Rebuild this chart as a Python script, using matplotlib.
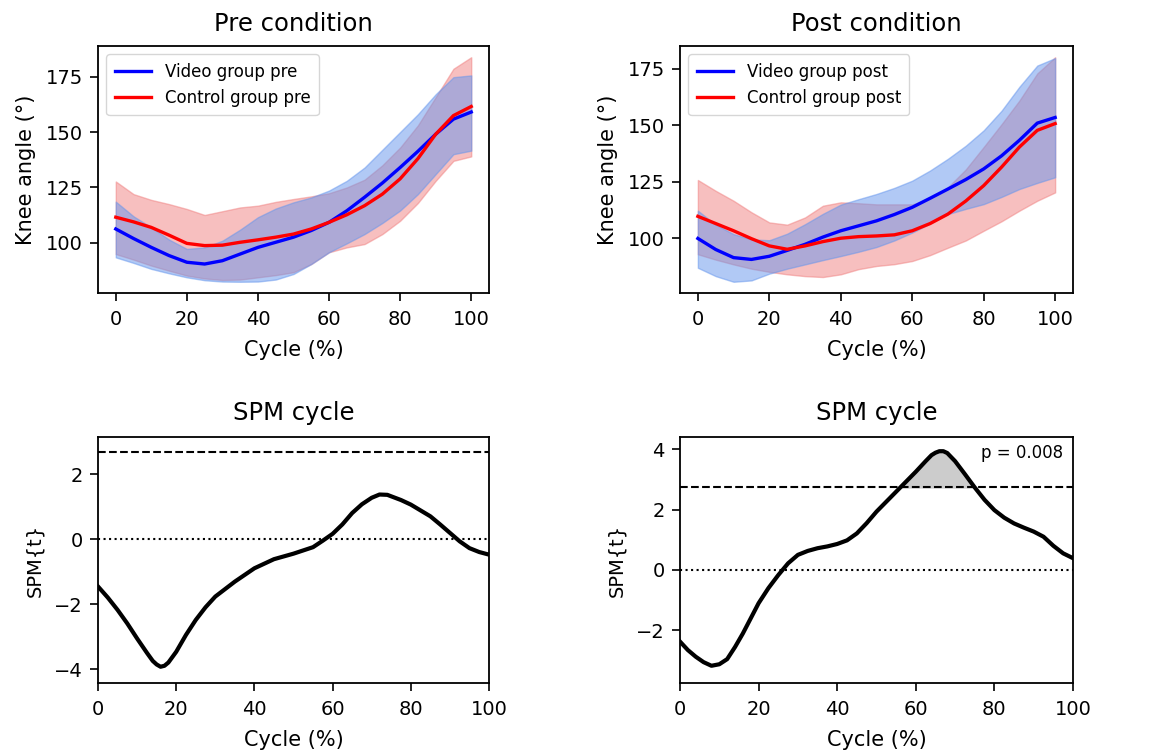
import matplotlib
matplotlib.use("Agg")
import matplotlib.pyplot as plt
import numpy as np

# gait cycle sample points (%)
cycle = [0, 5, 10, 15, 20, 25, 30, 35, 40, 45, 50, 55, 60, 65, 70, 75, 80, 85, 90, 95, 100]

# Pre condition: means and band limits (deg)
pre_video = [106.3, 102, 98, 94.3, 91.3, 90.5, 92, 95, 98, 100.3, 102.6, 105.6, 109.3,
             114.5, 120.6, 127, 134, 141.3, 149, 155.8, 159]
pre_video_hi = [118.6, 112, 107, 101.5, 97.3, 98, 101, 106, 111.6, 115.5, 118.3, 120.5, 123.6,
                128, 134, 142, 150, 158, 167, 174.7, 175.5]
pre_video_lo = [93.5, 91, 88.3, 86.3, 84.5, 83.2, 82.6, 82.5, 82.6, 83.5, 86, 90.5, 95.8,
                99.8, 104, 109, 114.6, 122, 131, 140, 141.6]
pre_ctrl = [111.6, 109.5, 107, 103.5, 99.8, 98.8, 99, 100.3, 101.4, 102.6, 104, 106.3, 109.3,
            112.7, 116.8, 122, 128.9, 138, 149, 157.4, 161.5]
pre_ctrl_hi = [127.7, 122, 119.4, 117.5, 115.3, 112.6, 114.3, 116, 116.8, 118.5, 119.8, 121, 122.4,
               125, 128.5, 135, 143, 153, 165.7, 178.5, 183.7]
pre_ctrl_lo = [95, 92.5, 89.8, 87.5, 85.3, 84, 83.3, 83.5, 84.5, 85.5, 86.8, 90.5, 95.8,
               98, 99.5, 104, 110, 118, 128, 137, 139]

# Post condition
post_video = [99.9, 95, 91.4, 90.6, 92, 94.6, 97.3, 100.5, 103.3, 105.5, 107.7, 110.5, 113.7,
              117.7, 121.8, 126, 130.7, 136.5, 143.4, 151, 153.5]
post_video_hi = [112.2, 106, 101.8, 99.5, 99.1, 102, 106.2, 110.8, 114.9, 117.3, 119.6, 122.3, 125.5,
                 130, 135.2, 141, 147.8, 156.5, 167.1, 176.5, 179.8]
post_video_lo = [86.9, 83.2, 80.7, 81.3, 84.3, 86.5, 88.4, 90.3, 92.1, 94, 96.1, 99, 102.5,
                 106.5, 110.7, 113, 115.1, 118.3, 121.8, 124.5, 127]
post_ctrl = [109.7, 106.5, 103.3, 99.8, 96.6, 95.1, 96.6, 98.5, 100, 100.7, 101, 101.5, 103.3,
             106.5, 110.7, 116.5, 123.3, 131.5, 140.4, 147.8, 150.8]
post_ctrl_hi = [125.8, 121, 116.6, 111.5, 107, 106, 109.2, 114.4, 115.9, 115.5, 115, 115, 115,
                117.5, 122.6, 130.5, 140.4, 150.5, 161, 173, 180.2]
post_ctrl_lo = [92.9, 90.5, 88.4, 86.5, 85.1, 84, 83.2, 82.8, 84, 86.3, 87.7, 88.5, 89.9,
                92.5, 95.8, 99, 103.3, 107.5, 112.2, 116.6, 120.3]

# SPM{t} curves
spm_pre_x = [0, 2.5, 5, 7.5, 10, 12.5, 14, 15, 16, 17, 18, 20, 22.5, 25, 27.5, 30, 35, 40, 45, 50,
             55, 57.5, 60, 62.5, 65, 67.5, 70, 72, 74, 77.5, 80, 85, 87.5, 90, 92.5, 95, 97.5, 100]
spm_pre_t = [-1.46, -1.8, -2.18, -2.6, -3.06, -3.5, -3.75, -3.86, -3.93, -3.9, -3.8, -3.47, -2.95,
             -2.49, -2.1, -1.77, -1.31, -0.9, -0.62, -0.45, -0.25, -0.05, 0.16, 0.45, 0.8, 1.07,
             1.27, 1.37, 1.36, 1.2, 1.06, 0.7, 0.45, 0.19, -0.07, -0.28, -0.4, -0.48]
spm_pre_thresh = 2.69

spm_post_x = [0, 2, 4, 6, 8, 10, 12, 14, 16, 18, 20, 22.5, 25, 27.5, 30, 32.5, 35, 37.5, 40, 42.5,
              45, 47.5, 50, 55, 60, 62.5, 64, 65, 66, 67, 68, 70, 72.5, 75, 77.5, 80, 82.5, 85,
              87.5, 90, 92.5, 95, 97.5, 100]
spm_post_t = [-2.37, -2.65, -2.87, -3.05, -3.17, -3.12, -2.95, -2.55, -2.1, -1.6, -1.1, -0.6, -0.17,
              0.22, 0.5, 0.63, 0.72, 0.78, 0.86, 0.98, 1.21, 1.55, 1.93, 2.59, 3.25, 3.6, 3.8, 3.88,
              3.93, 3.93, 3.87, 3.6, 3.17, 2.73, 2.32, 1.98, 1.73, 1.54, 1.4, 1.27, 1.1, 0.8, 0.55, 0.39]
spm_post_thresh = 2.73
spm_post_p = "p = 0.008"

W, H = 1158, 756
fig = plt.figure(figsize=(W / 100, H / 100), dpi=100)

ax_pre = fig.add_axes([98 / W, 1 - 293 / H, 391 / W, 247 / H])
ax_post = fig.add_axes([680 / W, 1 - 293 / H, 393 / W, 247 / H])
ax_spm_pre = fig.add_axes([98 / W, 1 - 683 / H, 391 / W, 246 / H])
ax_spm_post = fig.add_axes([680 / W, 1 - 683 / H, 393 / W, 246 / H])


def style_axes(ax, ylabel, ysize):
    ax.set_xticks([0, 20, 40, 60, 80, 100])
    ax.set_xlabel('Cycle (%)', fontsize=15, labelpad=8)
    ax.set_ylabel(ylabel, fontsize=ysize, labelpad=7)
    ax.tick_params(labelsize=14, width=1.2, length=6, pad=5)
    ax.tick_params(axis='x', pad=6.5)
    for s in ax.spines.values():
        s.set_linewidth(1.3)


def knee_panel(ax, title, video, vhi, vlo, ctrl, chi, clo, tag):
    ax.fill_between(cycle, clo, chi, color='lightcoral', alpha=0.5, lw=1)
    ax.fill_between(cycle, vlo, vhi, color='cornflowerblue', alpha=0.5, lw=1)
    ax.plot(cycle, video, color='blue', lw=2.4, label='Video group ' + tag)
    ax.plot(cycle, ctrl, color='red', lw=2.4, label='Control group ' + tag)
    ax.set_title(title, fontsize=17.5, pad=11)
    ax.set_yticks([100, 125, 150, 175])
    style_axes(ax, 'Knee angle (°)', 15)
    ax.legend(loc='upper left', fontsize=12, handlelength=2.2, borderpad=0.5)


def spm_panel(ax, x, t, thresh, yticks, ylim):
    ax.plot(x, t, color='black', lw=3)
    ax.axhline(thresh, color='black', ls='--', lw=1.5)
    ax.axhline(0, color='black', ls=':', lw=1.5)
    tt = np.array(t)
    ax.fill_between(x, thresh, tt, where=tt >= thresh, color='0.8', interpolate=True)
    ax.set_xlim(0, 100)
    ax.set_ylim(*ylim)
    ax.set_yticks(yticks)
    ax.set_title('SPM cycle', fontsize=17.5, pad=12)
    style_axes(ax, 'SPM{t}', 14)


knee_panel(ax_pre, 'Pre condition', pre_video, pre_video_hi, pre_video_lo,
           pre_ctrl, pre_ctrl_hi, pre_ctrl_lo, 'pre')
knee_panel(ax_post, 'Post condition', post_video, post_video_hi, post_video_lo,
           post_ctrl, post_ctrl_hi, post_ctrl_lo, 'post')

spm_panel(ax_spm_pre, spm_pre_x, spm_pre_t, spm_pre_thresh, [-4, -2, 0, 2], (-4.43, 3.14))
spm_panel(ax_spm_post, spm_post_x, spm_post_t, spm_post_thresh, [-2, 0, 2, 4], (-3.74, 4.4))
ax_spm_post.text(0.975, 0.935, spm_post_p, transform=ax_spm_post.transAxes,
                 ha='right', va='center', fontsize=12)

fig.savefig('out.png', dpi=100)
